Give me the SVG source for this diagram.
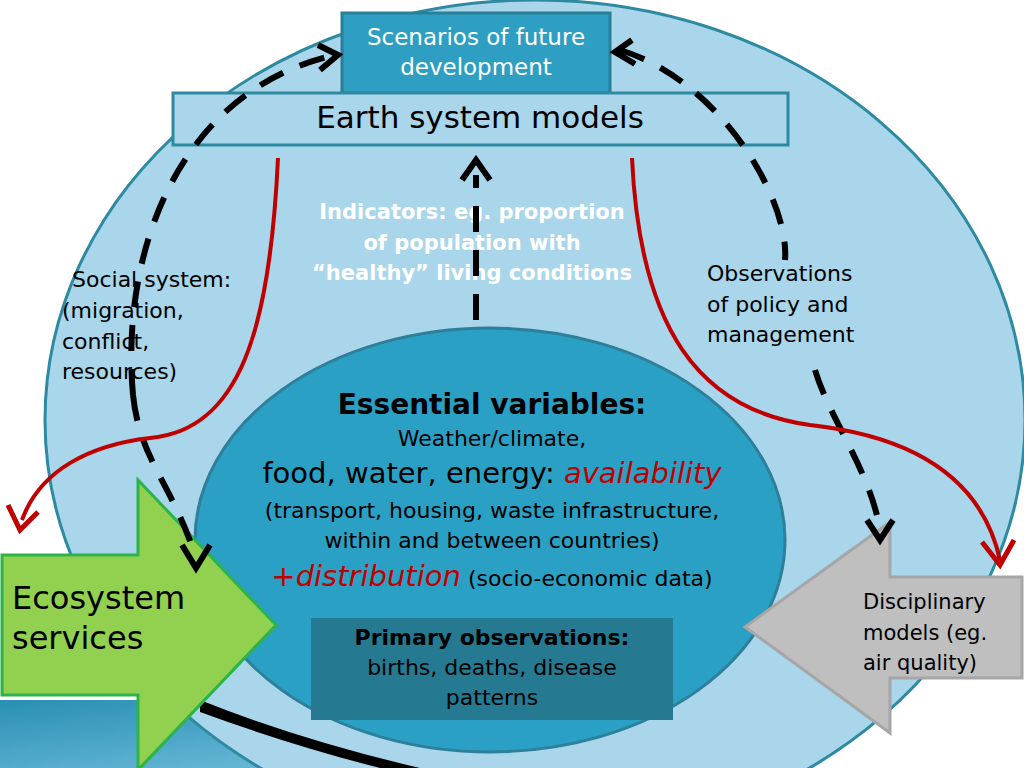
<svg xmlns="http://www.w3.org/2000/svg" width="1024" height="768" viewBox="0 0 1024 768">
<defs>
<style>
text{font-family:"DejaVu Sans","Liberation Sans",sans-serif;text-anchor:middle}
.dash{fill:none;stroke:#000;stroke-width:6;stroke-dasharray:26 18}
.red{fill:none;stroke:#c00000;stroke-width:4}
.ah{fill:none;stroke:#000;stroke-width:6}
.rh{fill:none;stroke:#c00000;stroke-width:5}
</style>
<linearGradient id="bg" x1="0" y1="0" x2="1" y2="1"><stop offset="0" stop-color="#2a8fb5"/><stop offset="1" stop-color="#7cc6e0"/></linearGradient>
</defs>
<rect width="1024" height="768" fill="#fff"/>
<path d="M0 700 L0 768 L560 768 L560 700 Z" fill="url(#bg)"/>
<g id="outer"><ellipse cx="535" cy="420" rx="490" ry="420" fill="#a9d6ea" stroke="#2e8aa0" stroke-width="3"/></g>
<path d="M200 700 Q300 740 420 768 L380 768 Q290 745 200 712 Z" fill="#000"/>
<g id="inner"><ellipse cx="490" cy="540" rx="295" ry="212" fill="#2aa0c4" stroke="#2e7f9a" stroke-width="3"/></g>
<g id="scenarios"><rect x="342" y="13" width="268" height="80" fill="#2e9fc2" stroke="#2a7f98" stroke-width="3"/>
<text x="476" y="45" font-size="23" fill="#fff">Scenarios of future</text><text x="476" y="75" font-size="23" fill="#fff">development</text></g>
<g id="esm"><rect x="173" y="93" width="615" height="52" fill="#a9d6ea" stroke="#2e8aa0" stroke-width="3"/>
<text x="480" y="128" font-size="31">Earth system models</text></g>
<g id="indicators"><text x="472" y="219" font-size="21" font-weight="bold" fill="#fff">Indicators: eg. proportion</text>
<text x="472" y="250" font-size="21" font-weight="bold" fill="#fff">of population with</text>
<text x="472" y="280" font-size="21" font-weight="bold" fill="#fff">“healthy” living conditions</text></g>
<g id="social" font-size="22"><text x="72" y="287" style="text-anchor:start">Social system:</text><text x="62" y="318" style="text-anchor:start">(migration,</text><text x="62" y="349" style="text-anchor:start">conflict,</text><text x="62" y="379" style="text-anchor:start">resources)</text></g>
<g id="obs" font-size="22"><text x="707" y="281" style="text-anchor:start">Observations</text><text x="707" y="312" style="text-anchor:start">of policy and</text><text x="707" y="342" style="text-anchor:start">management</text></g>
<g id="essential">
<text x="492" y="414" font-size="28" font-weight="bold">Essential variables:</text>
<text x="492" y="446" font-size="22">Weather/climate,</text>
<text x="492" y="483" font-size="29">food, water, energy: <tspan fill="#c00000" font-style="italic">availability</tspan></text>
<text x="492" y="518" font-size="22">(transport, housing, waste infrastructure,</text>
<text x="492" y="548" font-size="22">within and between countries)</text>
<text x="492" y="586" font-size="22"><tspan fill="#c00000" font-style="italic" font-size="29">+distribution</tspan> (socio-economic data)</text>
</g>
<g id="primary"><rect x="311" y="618" width="362" height="102" fill="#257a92"/>
<text x="492" y="645" font-size="22" font-weight="bold">Primary observations:</text>
<text x="492" y="675" font-size="22">births, deaths, disease</text>
<text x="492" y="705" font-size="22">patterns</text></g>
<g id="eco"><path d="M2 555 L138 555 L138 480 L276 625 L138 770 L138 695 L2 695 Z" fill="#92d050" stroke="#2cb34a" stroke-width="3"/>
<text x="12" y="609" font-size="32" style="text-anchor:start">Ecosystem</text><text x="12" y="649" font-size="32" style="text-anchor:start">services</text></g>
<g id="disc"><path d="M1022 577 L890 577 L890 522 L745 627 L890 733 L890 678 L1022 678 Z" fill="#bfbfbf" stroke="#a6a6a6" stroke-width="3"/>
<text x="863" y="609" font-size="21" style="text-anchor:start">Disciplinary</text><text x="863" y="640" font-size="21" style="text-anchor:start">models (eg.</text><text x="863" y="670" font-size="21" style="text-anchor:start">air quality)</text></g>
<g id="connectors">
<path class="dash" d="M133 395 C120 250 180 90 335 55"/>
<path class="ah" d="M318 45 L338 55 L320 70"/>
<path class="dash" d="M620 50 C720 80 790 200 785 260"/>
<path class="ah" d="M632 40 L615 52 L635 64"/>
<path class="dash" d="M133 395 C140 460 170 480 195 555"/>
<path class="ah" d="M182 545 L196 568 L210 545"/>
<path class="dash" d="M815 370 C830 420 870 470 880 530"/>
<path class="ah" d="M867 520 L880 540 L893 520"/>
<path class="dash" d="M476 320 L476 175"/>
<path class="ah" d="M462 180 L476 160 L490 180"/>
<path class="red" d="M278 158 C270 330 240 430 150 438 C90 445 40 470 22 520"/>
<path class="rh" d="M8 505 L20 530 L38 512"/>
<path class="red" d="M632 158 C640 330 700 410 810 425 C900 435 980 470 1000 560"/>
<path class="rh" d="M982 542 L1000 565 L1014 540"/>
</g>
</svg>
